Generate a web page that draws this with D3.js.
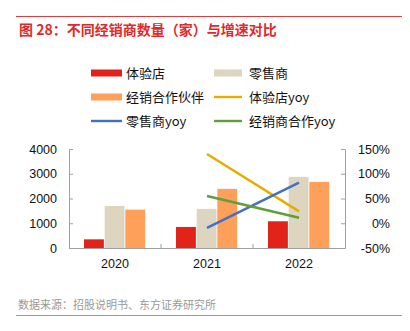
<!DOCTYPE html>
<html>
<head>
<meta charset="utf-8">
<script src="https://cdn.jsdelivr.net/npm/d3@7"></script>
<style>
  body { margin: 0; background: #fff; }
  svg { display: block; font-family: "Liberation Sans", Arial, sans-serif; }
</style>
</head>
<body>
<svg id="chart"></svg>
<script>
// 数据
var years = ['2020', '2021', '2022']
var tiyan = [350, 850, 1080]         // 体验店
var lingshou = [1700, 1580, 2875]    // 零售商
var jingxiao = [1550, 2390, 2670]    // 经销合作伙伴
var yoyYears = ['2021', '2022']
var tiyanYoy = [140, 24]
var lingshouYoy = [-9.5, 82]
var jingxiaoYoy = [55, 11]
var leftTicks = [0, 1000, 2000, 3000, 4000]
var rightTicks = [-50, 0, 50, 100, 150]

var width = 410
var height = 331
var svg = d3.select('#chart').attr('width', width).attr('height', height)

var cjk = '"Noto Sans CJK SC", sans-serif'

// 标题
svg.append('line').attr('x1', 16).attr('x2', 402).attr('y1', 16.5).attr('y2', 16.5)
  .attr('stroke', '#e03c3c').attr('stroke-width', 1)
svg.append('text').attr('x', 19).attr('y', 35)
  .attr('font-family', cjk).attr('font-size', '14px').attr('font-weight', 'bold')
  .attr('fill', '#e02a2a').text('图 28：不同经销商数量（家）与增速对比')

// 比例尺 (注意不要用 top 作变量名)
var plotLeft = 69, plotRight = 345, plotTop = 149, plotBottom = 248
var x = d3.scaleBand().domain(years).range([plotLeft, plotRight])
var inner = d3.scaleBand().domain([0, 1, 2]).range([-31, 31])
var y = d3.scaleLinear().domain([0, 4000]).range([plotBottom, plotTop])
var y2 = d3.scaleLinear().domain([-50, 150]).range([plotBottom, plotTop])

var series = [
  { name: '体验店', data: tiyan, color: '#e2231a' },
  { name: '零售商', data: lingshou, color: '#ddd5c0' },
  { name: '经销合作伙伴', data: jingxiao, color: '#ffa05a' }
]
var lines = [
  { name: '体验店yoy', data: tiyanYoy, color: '#e6ad00' },
  { name: '零售商yoy', data: lingshouYoy, color: '#4270c2' },
  { name: '经销商合作yoy', data: jingxiaoYoy, color: '#5f9e3b' }
]

// 柱子
series.forEach(function (s, si) {
  svg.append('g').selectAll('rect').data(s.data).enter().append('rect')
    .attr('x', function (d, i) { return x(years[i]) + x.bandwidth() / 2 + inner(si) })
    .attr('y', function (d) { return y(d) })
    .attr('width', inner.bandwidth() - 0.8)
    .attr('height', function (d) { return plotBottom - y(d) })
    .attr('fill', s.color)
})

// 坐标轴
var axisColor = '#a0a0a0'
var leftAxis = d3.axisLeft(y).tickValues(leftTicks).tickFormat(d3.format('d'))
  .tickSizeInner(-4).tickSizeOuter(0).tickPadding(12)
var rightAxis = d3.axisRight(y2).tickValues(rightTicks).tickSizeInner(-4).tickSizeOuter(0)
  .tickFormat(function (d) { return d + '%' })
var bottomAxis = d3.axisBottom(x).tickSize(0).tickPadding(11)

var gl = svg.append('g').attr('transform', 'translate(' + plotLeft + ',0)').call(leftAxis)
var gr = svg.append('g').attr('transform', 'translate(' + plotRight + ',0)').call(rightAxis)
var gb = svg.append('g').attr('transform', 'translate(0,' + plotBottom + ')').call(bottomAxis)
gr.selectAll('text').attr('text-anchor', 'end').attr('x', 45)

// x轴分隔刻度
svg.append('g').selectAll('line').data(years.slice(1)).enter().append('line')
  .attr('x1', function (d) { return x(d) }).attr('x2', function (d) { return x(d) })
  .attr('y1', plotBottom).attr('y2', plotBottom - 4).attr('stroke', axisColor)

;[gl, gr, gb].forEach(function (g) {
  g.selectAll('path, line').attr('stroke', axisColor)
  g.selectAll('text').attr('font-size', '12.5px').attr('fill', '#111')
    .attr('font-family', '"Liberation Sans", Arial, sans-serif')
})

// 折线
lines.forEach(function (l) {
  var line = d3.line()
    .x(function (d, i) { return x(yoyYears[i]) + x.bandwidth() / 2 })
    .y(function (d) { return y2(d) })
  svg.append('path').datum(l.data).attr('d', line)
    .attr('fill', 'none').attr('stroke', l.color).attr('stroke-width', 2.5)
})

// 图例
var legendItems = [
  { name: '体验店', color: '#e2231a', type: 'bar' },
  { name: '零售商', color: '#ddd5c0', type: 'bar' },
  { name: '经销合作伙伴', color: '#ffa05a', type: 'bar' },
  { name: '体验店yoy', color: '#e6ad00', type: 'line' },
  { name: '零售商yoy', color: '#4270c2', type: 'line' },
  { name: '经销商合作yoy', color: '#5f9e3b', type: 'line' }
]
var lg = svg.append('g').selectAll('g').data(legendItems).enter().append('g')
  .attr('transform', function (d, i) {
    return 'translate(' + (i % 2 === 0 ? 91 : 214) + ',' + (73 + Math.floor(i / 2) * 24) + ')'
  })
lg.append('rect')
  .attr('x', 0)
  .attr('y', function (d) { return d.type === 'bar' ? -3.5 : -1.2 })
  .attr('width', function (d, i) { return i % 2 === 0 ? 31 : 28 })
  .attr('height', function (d) { return d.type === 'bar' ? 7 : 2.4 })
  .attr('fill', function (d) { return d.color })
lg.append('text')
  .attr('x', 35)
  .attr('dy', '0.36em')
  .attr('font-family', cjk).attr('font-size', '13px').attr('fill', '#111')
  .text(function (d) { return d.name })

// 数据来源
svg.append('text').attr('x', 18).attr('y', 309)
  .attr('font-family', cjk).attr('font-size', '11px').attr('fill', '#999')
  .text('数据来源：招股说明书、东方证券研究所')
svg.append('line').attr('x1', 16).attr('x2', 402).attr('y1', 315.5).attr('y2', 315.5)
  .attr('stroke', '#e87878').attr('stroke-width', 1)
</script>
</body>
</html>
